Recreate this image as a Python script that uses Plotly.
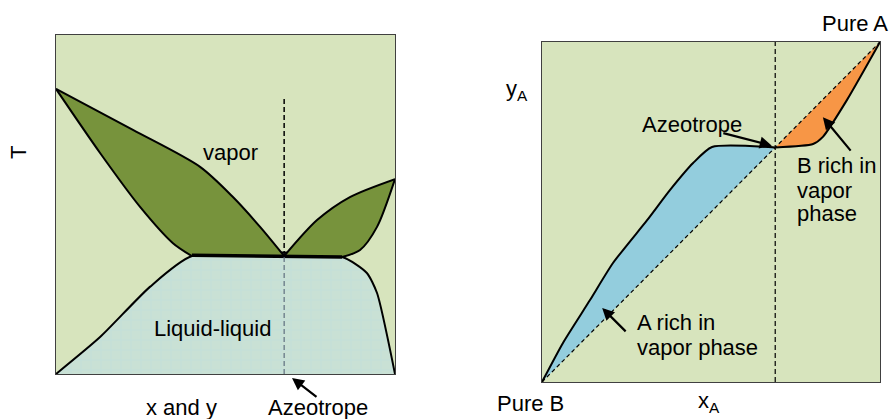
import plotly.graph_objects as go

W, H = 889, 419

# ---- Left panel: T vs x,y phase diagram (fractions of the box) ----
dew_left_x = [0.0, 0.227, 0.425, 0.522, 0.602, 0.673]
dew_left_y = [0.841, 0.720, 0.611, 0.522, 0.434, 0.348]
bub_left_x = [0.0, 0.130, 0.248, 0.345, 0.401]
bub_left_y = [0.841, 0.652, 0.493, 0.386, 0.348]

dew_right_x = [0.673, 0.770, 0.867, 1.0]
dew_right_y = [0.348, 0.454, 0.522, 0.575]
bub_right_x = [0.844, 0.897, 0.947, 1.0]
bub_right_y = [0.345, 0.366, 0.434, 0.575]

three_phase_x = [0.401, 0.844]
three_phase_y = [0.350, 0.345]

ll_x = [0.0, 0.130, 0.277, 0.401, 0.844, 0.917, 0.947, 1.0]
ll_y = [0.0, 0.109, 0.257, 0.348, 0.345, 0.298, 0.239, 0.0]

azeo_T_x = 0.673
azeo_T_y = 0.348
azeo_T_top = 0.82

# ---- Right panel: y-x diagram ----
a_rich_x = [0.0, 0.062, 0.142, 0.210, 0.311, 0.379, 0.447, 0.503, 0.690]
a_rich_y = [0.0, 0.115, 0.241, 0.350, 0.476, 0.565, 0.644, 0.691, 0.690]
b_rich_x = [0.690, 0.802, 0.831, 0.902, 1.0]
b_rich_y = [0.690, 0.700, 0.721, 0.829, 1.0]
azeo_x = 0.690

BG = "#d7e4bd"
DARK_GREEN = "#77933c"
LL_FILL = "#c9e1d5"
BLUE = "#93cddd"
ORANGE = "#f79646"
FONT = "Liberation Sans, Arial, sans-serif"
FS = 22

fig = go.Figure()

# liquid-liquid region
fig.add_trace(go.Scatter(
    x=ll_x, y=ll_y, mode="lines", fill="toself", fillcolor=LL_FILL,
    fillpattern=dict(shape="+", size=10, solidity=0.1,
                     fgcolor="#b3dbe8", bgcolor=LL_FILL),
    line=dict(color="black", width=2, shape="spline", smoothing=0.6),
    xaxis="x", yaxis="y", hoverinfo="skip"))

# left vapor-liquid lens
fig.add_trace(go.Scatter(
    x=dew_left_x, y=dew_left_y, mode="lines",
    line=dict(color="black", width=2, shape="spline", smoothing=0.8),
    xaxis="x", yaxis="y", hoverinfo="skip"))
fig.add_trace(go.Scatter(
    x=bub_left_x, y=bub_left_y, mode="lines", fill="tonexty", fillcolor=DARK_GREEN,
    line=dict(color="black", width=2, shape="spline", smoothing=0.8),
    xaxis="x", yaxis="y", hoverinfo="skip"))

# right vapor-liquid lens
fig.add_trace(go.Scatter(
    x=dew_right_x, y=dew_right_y, mode="lines",
    line=dict(color="black", width=2, shape="spline", smoothing=0.8),
    xaxis="x", yaxis="y", hoverinfo="skip"))
fig.add_trace(go.Scatter(
    x=bub_right_x, y=bub_right_y, mode="lines", fill="tonexty", fillcolor=DARK_GREEN,
    line=dict(color="black", width=2, shape="spline", smoothing=0.8),
    xaxis="x", yaxis="y", hoverinfo="skip"))

# three-phase line
fig.add_trace(go.Scatter(
    x=three_phase_x, y=three_phase_y, mode="lines",
    line=dict(color="black", width=3.5),
    xaxis="x", yaxis="y", hoverinfo="skip"))

# azeotrope composition line
fig.add_trace(go.Scatter(
    x=[azeo_T_x, azeo_T_x], y=[azeo_T_y, azeo_T_top], mode="lines",
    line=dict(color="black", width=1.5, dash="5px,3px"),
    xaxis="x", yaxis="y", hoverinfo="skip"))
fig.add_trace(go.Scatter(
    x=[azeo_T_x, azeo_T_x], y=[0, azeo_T_y], mode="lines",
    line=dict(color="#5f6f7f", width=1.2, dash="5px,3px"),
    xaxis="x", yaxis="y", hoverinfo="skip"))

# right panel: A-rich region (above diagonal)
fig.add_trace(go.Scatter(
    x=a_rich_x, y=a_rich_y, mode="lines",
    line=dict(color="black", width=2, shape="spline", smoothing=0.6),
    xaxis="x2", yaxis="y2", hoverinfo="skip"))
fig.add_trace(go.Scatter(
    x=[0.0, azeo_x], y=[0.0, azeo_x], mode="lines", fill="tonexty", fillcolor=BLUE,
    line=dict(color="rgba(0,0,0,0)", width=0),
    xaxis="x2", yaxis="y2", hoverinfo="skip"))

# right panel: B-rich region (below diagonal)
fig.add_trace(go.Scatter(
    x=[azeo_x, 1.0], y=[azeo_x, 1.0], mode="lines",
    line=dict(color="rgba(0,0,0,0)", width=0),
    xaxis="x2", yaxis="y2", hoverinfo="skip"))
fig.add_trace(go.Scatter(
    x=b_rich_x, y=b_rich_y, mode="lines", fill="tonexty", fillcolor=ORANGE,
    line=dict(color="black", width=2, shape="spline", smoothing=0.6),
    xaxis="x2", yaxis="y2", hoverinfo="skip"))

# y = x diagonal and azeotrope composition
fig.add_trace(go.Scatter(
    x=[0, 1], y=[0, 1], mode="lines",
    line=dict(color="black", width=1.2, dash="4px,3px"),
    xaxis="x2", yaxis="y2", hoverinfo="skip"))
fig.add_trace(go.Scatter(
    x=[azeo_x, azeo_x], y=[0, 1], mode="lines",
    line=dict(color="black", width=1.2, dash="5px,3px"),
    xaxis="x2", yaxis="y2", hoverinfo="skip"))


def px(x, y):
    return x / W, 1 - y / H


annotations = []


def label(text, x, y, xanchor="center", angle=0, size=FS):
    xp, yp = px(x, y)
    annotations.append(dict(
        text=text, x=xp, y=yp, xref="paper", yref="paper",
        xanchor=xanchor, yanchor="middle", showarrow=False, textangle=angle,
        font=dict(family=FONT, size=size, color="black")))


def arrow(xref, yref, hx, hy, ax, ay):
    annotations.append(dict(
        text="", x=hx, y=hy, xref=xref, yref=yref, ax=ax, ay=ay,
        showarrow=True, arrowhead=2, arrowsize=1.1, arrowwidth=2.2,
        arrowcolor="black", standoff=0))


label("T", 19, 153, angle=-90)
label("vapor", 231, 152)
label("Liquid-liquid", 212, 328)
label("x and y", 181, 407)
label("Azeotrope", 318, 407)
hx, hy = px(292, 378)
arrow("paper", "paper", hx, hy, 26, 20)

label("Pure A", 855, 23)
label("y<sub>A</sub>", 517, 90)
label("Azeotrope", 692, 125)
arrow("x2", "y2", azeo_x - 0.01, azeo_x + 0.005, -50, -13)
label("B rich in", 795, 165, xanchor="left")
label("vapor", 795, 190, xanchor="left")
label("phase", 795, 214, xanchor="left")
arrow("x2", "y2", 0.831, 0.779, 29, 35)
label("A rich in", 635, 322, xanchor="left")
label("vapor phase", 635, 347, xanchor="left")
arrow("x2", "y2", 0.178, 0.218, 25, 25)
label("Pure B", 530, 403)
label("x<sub>A</sub>", 709, 402)

axis_common = dict(range=[0, 1], showgrid=False, zeroline=False,
                   showticklabels=False, ticks="", showline=True, mirror=True,
                   linecolor="#404040", linewidth=1.2, fixedrange=True)

fig.update_layout(
    width=W, height=H,
    margin=dict(l=0, r=0, t=0, b=0),
    paper_bgcolor="white", plot_bgcolor=BG,
    showlegend=False,
    xaxis=dict(domain=[56 / W, 395 / W], anchor="y", **axis_common),
    yaxis=dict(domain=[1 - 374 / H, 1 - 35 / H], anchor="x", **axis_common),
    xaxis2=dict(domain=[542 / W, 880 / W], anchor="y2", **axis_common),
    yaxis2=dict(domain=[1 - 382 / H, 1 - 42 / H], anchor="x2", **axis_common),
    annotations=annotations,
    font=dict(family=FONT, size=FS, color="black"),
)

fig.write_html("out.html")
